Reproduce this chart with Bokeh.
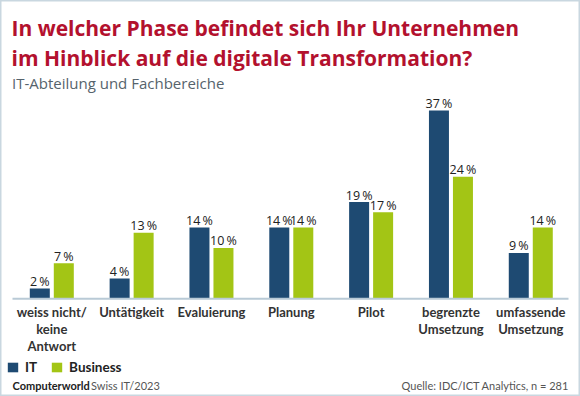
from bokeh.plotting import figure
from bokeh.models import ColumnDataSource, Range1d, Label, Legend, LegendItem
from bokeh.transform import dodge
from bokeh.core.properties import value
from bokeh.embed import file_html
from bokeh.resources import INLINE

# ---- data ----
categories = ["weiss nicht/\nkeine\nAntwort", "Untätigkeit", "Evaluierung", "Planung",
              "Pilot", "begrenzte\nUmsetzung", "umfassende\nUmsetzung"]
it_values = [2, 4, 14, 14, 19, 37, 9]
business_values = [7, 13, 10, 14, 17, 24, 14]
series_names = ["IT", "Business"]

title_lines = ["In welcher Phase befindet sich Ihr Unternehmen",
               "im Hinblick auf die digitale Transformation?"]
subtitle = "IT-Abteilung und Fachbereiche"
brand = "Computerworld"
edition = "Swiss IT/2023"
source_note = "Quelle: IDC/ICT Analytics, n = 281"

# ---- layout (pixels) ----
W, H = 580, 396
X0 = 51.3          # canvas x of first category centre
DX = 79.83         # px per category
Y0 = 298.3         # canvas y of baseline
DY = 5.09          # px per percent

def px2x(px):
    return (px - X0) / DX

def px2y(py):
    return (Y0 - py) / DY

IT_COLOR = "#1e4a72"
BIZ_COLOR = "#a3c515"
FONT = "Lato"
TFONT = "Open Sans"

idx = list(range(len(categories)))
src = ColumnDataSource(dict(
    x=idx, cat=categories, it=it_values, biz=business_values,
    it_lbl=[f"{v}\u2009%" for v in it_values],
    biz_lbl=[f"{v}\u2009%" for v in business_values],
))

p = figure(width=W, height=H, output_backend="svg", toolbar_location=None,
           x_range=Range1d(-X0 / DX, (W - X0) / DX),
           y_range=Range1d(-(H - Y0) / DY, Y0 / DY),
           min_border=0, min_border_left=0, min_border_right=0,
           min_border_top=0, min_border_bottom=0)
p.axis.visible = False
p.grid.visible = False
p.outline_line_color = "#c9d7e0"
p.outline_line_width = 2
p.background_fill_color = "white"
p.border_fill_color = "white"

bw = 20 / DX
off = 12 / DX
r_it = p.vbar(x=dodge("x", -off), top="it", width=bw, source=src,
              fill_color=IT_COLOR, line_color=None)
r_biz = p.vbar(x=dodge("x", off), top="biz", width=bw, source=src,
               fill_color=BIZ_COLOR, line_color=None)

# baseline
p.segment(x0=[px2x(12)], y0=[0], x1=[px2x(568)], y1=[0],
          line_color="#b9cad6", line_width=2)

# value labels
for col, d in (("it_lbl", -off), ("biz_lbl", off)):
    yc = "it" if col == "it_lbl" else "biz"
    p.text(x=dodge("x", d), y=yc, text=col, source=src,
           text_align="center", text_baseline="alphabetic", y_offset=-7,
           text_font=value(TFONT), text_font_size="12.5px",
           text_color="#222222")

# category labels
p.text(x="x", y=0, text="cat", source=src, text_align="center",
       text_baseline="top", y_offset=5, text_line_height=1.08,
       text_font=value(FONT), text_font_size="13px", text_font_style="bold",
       text_color="#333333")

# titles
for i, line in enumerate(title_lines):
    p.add_layout(Label(x=px2x(11), y=px2y([27.5, 57][i]), text=line,
                       text_font=TFONT, text_font_size="21px", text_font_style="bold",
                       text_color="#b3112e", text_baseline="alphabetic"))
p.add_layout(Label(x=px2x(11.5), y=px2y(82.7), text=subtitle,
                   text_font=TFONT, text_font_size="15px",
                   text_color="#56636c", text_baseline="alphabetic"))

# footer
p.add_layout(Label(x=px2x(12), y=px2y(385), text=brand, text_font=FONT,
                   text_font_size="11px", text_font_style="bold",
                   text_color="#222222", text_baseline="alphabetic"))
p.add_layout(Label(x=px2x(90.5), y=px2y(385), text=edition, text_font=FONT,
                   text_font_size="11px", text_color="#555555",
                   text_baseline="alphabetic"))
p.add_layout(Label(x=px2x(568.5), y=px2y(385), text=source_note, text_font=FONT,
                   text_font_size="11px", text_color="#555555",
                   text_align="right", text_baseline="alphabetic"))

# legend
legend = Legend(items=[LegendItem(label=series_names[0], renderers=[r_it]),
                       LegendItem(label=series_names[1], renderers=[r_biz])],
                orientation="horizontal", location=(6, 21),
                padding=0, margin=0, spacing=13, label_standoff=6,
                glyph_width=13, glyph_height=12, label_height=12, label_width=0,
                label_text_font=FONT, label_text_font_size="13.5px",
                label_text_font_style="bold", label_text_color="#222222",
                background_fill_alpha=0, border_line_color=None)
p.add_layout(legend)

open("out.html", "w").write(file_html(p, INLINE))
